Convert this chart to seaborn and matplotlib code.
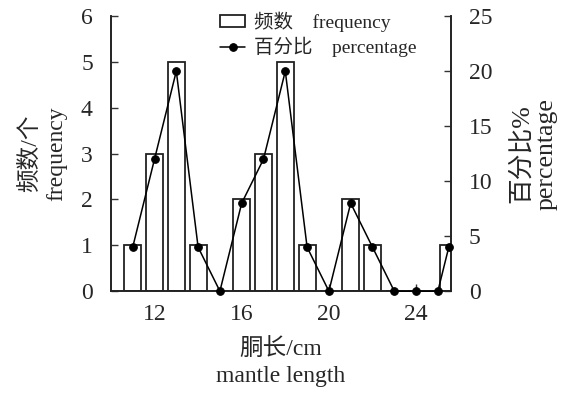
import numpy as np
import pandas as pd
import seaborn as sns
from matplotlib import pyplot as plt

# mantle length classes (cm), last one sits at the right edge
length_cm = [11, 12, 13, 14, 15, 16, 17, 18, 19, 20, 21, 22, 23, 24, 25, 25.5]
frequency = [1, 3, 5, 1, 0, 2, 3, 5, 1, 0, 2, 1, 0, 0, 0, 1]
percentage = [4, 12, 20, 4, 0, 8, 12, 20, 4, 0, 8, 4, 0, 0, 0, 4]
x_ticks = [12, 16, 20, 24]

sns.set_style('ticks')
plt.rcParams['font.family'] = ['Liberation Serif', 'Noto Sans CJK SC']
plt.rcParams['xtick.direction'] = 'in'
plt.rcParams['ytick.direction'] = 'in'

df = pd.DataFrame({'len': length_cm, 'freq': frequency, 'pct': percentage})

fig = plt.figure(figsize=(5.63, 3.94), dpi=100)
ax = fig.add_axes([0.197, 0.261, 0.604, 0.698])

ax.bar(df['len'], df['freq'], width=0.78, color='white',
       edgecolor='#222222', linewidth=1.3, label='频数    frequency', zorder=2)
ax.set_xlim(10, 25.6)
ax.set_ylim(0, 6)
ax.set_xticks(x_ticks)
ax.set_yticks(range(0, 7))
ax.tick_params(axis='y', labelsize=17, length=5, width=1, color='#333333', pad=13)
ax.tick_params(axis='x', labelsize=17, length=5, width=1, color='#333333', pad=9)
ax.spines['top'].set_visible(False)
ax.set_xlabel('胴长/cm\nmantle length', fontsize=17, linespacing=1.35, labelpad=10)
ax.set_ylabel('频数/个\nfrequency', fontsize=17, linespacing=1.3, labelpad=10)

ax2 = ax.twinx()
sns.lineplot(data=df, x='len', y='pct', ax=ax2, color='black', linewidth=1.1,
             marker='o', markersize=5.5, markeredgecolor='black',
             label='百分比    percentage', zorder=3, clip_on=False)
ax2.set_ylim(0, 25)
ax2.set_yticks(range(0, 26, 5))
ax2.tick_params(labelsize=17, length=5, width=1, color='#333333', pad=13)
ax2.spines['top'].set_visible(False)
ax2.set_ylabel('百分比%\npercentage', fontsize=18.5, linespacing=1.15, labelpad=12)
ax2.set_xlabel('')
ax2.get_legend().remove()

for a in (ax, ax2):
    for s in a.spines.values():
        s.set_linewidth(1.2)
        s.set_color('#222222')

h1, l1 = ax.get_legend_handles_labels()
h2, l2 = ax2.get_legend_handles_labels()
ax.legend(h1 + h2, l1 + l2, loc='upper center', bbox_to_anchor=(0.61, 1.065),
          frameon=False, fontsize=14, handlelength=1.3, handleheight=0.55,
          labelspacing=0.25, handletextpad=0.45, borderpad=0.2)

fig.savefig('out.png', dpi=100)
